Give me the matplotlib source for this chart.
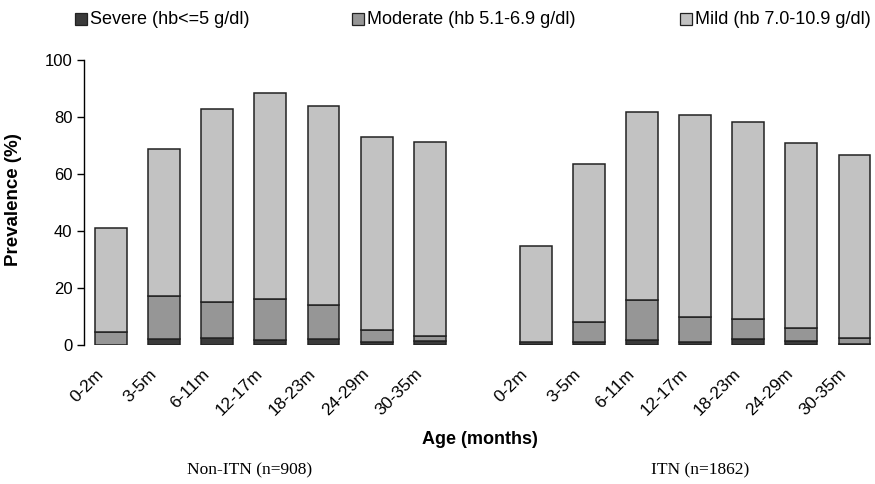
import matplotlib
matplotlib.use("Agg")
import matplotlib.pyplot as plt
from matplotlib.patches import Rectangle
from matplotlib.transforms import ScaledTranslation
import numpy as np

ages = ["0-2m", "3-5m", "6-11m", "12-17m", "18-23m", "24-29m", "30-35m"]
groups = ["Non-ITN (n=908)", "ITN (n=1862)"]

# Cumulative readings (top of each stacked level), in %
non_itn_total = [41.0, 68.8, 83.0, 88.6, 83.9, 73.1, 71.3]
non_itn_mod_top = [4.6, 17.2, 15.2, 16.1, 14.0, 5.5, 3.3]
non_itn_severe = [0.0, 2.2, 2.5, 1.9, 2.1, 1.2, 1.4]

itn_total = [34.8, 63.4, 81.9, 80.8, 78.3, 70.9, 66.7]
itn_mod_top = [1.1, 8.2, 16.0, 9.9, 9.3, 6.0, 2.5]
itn_severe = [0.3, 1.0, 1.9, 1.0, 2.1, 1.5, 0.5]

legend_labels = ["Severe (hb<=5 g/dl)", "Moderate (hb 5.1-6.9 g/dl)", "Mild (hb 7.0-10.9 g/dl)"]
colors = ["#3a3a3a", "#969696", "#c2c2c2"]
edge = "#222222"

severe = np.array(non_itn_severe + itn_severe)
moderate = np.array(non_itn_mod_top + itn_mod_top) - severe
mild = np.array(non_itn_total + itn_total) - np.array(non_itn_mod_top + itn_mod_top)

x = np.array(list(range(0, 7)) + list(range(8, 15)))
labels = ages + ages

W, H = 875, 484
fig = plt.figure(figsize=(W / 100, H / 100), dpi=100)
ax = fig.add_axes([83.5 / W, 1 - 345.3 / H, 797.5 / W, 285.3 / H])

bw = 0.6
lw = 1.1
ax.bar(x, severe, bw, color=colors[0], edgecolor=edge, linewidth=lw)
ax.bar(x, moderate, bw, bottom=severe, color=colors[1], edgecolor=edge, linewidth=lw)
ax.bar(x, mild, bw, bottom=severe + moderate, color=colors[2], edgecolor=edge, linewidth=lw)

ax.set_xlim(-0.52, 14.5)
ax.set_ylim(0, 100)
ax.set_yticks([0, 20, 40, 60, 80, 100])
for s in ["top", "right", "bottom"]:
    ax.spines[s].set_visible(False)
ax.spines["left"].set_color("black")
ax.spines["left"].set_linewidth(1.0)
ax.tick_params(axis="y", direction="out", length=5, width=1, pad=3, labelsize=12)
ax.tick_params(axis="x", length=0, pad=15, labelsize=12.5)
ax.set_xticks(x)
ax.set_xticklabels(labels, rotation=45, ha="right", va="top")
off = ScaledTranslation(-5 / 100, 0, fig.dpi_scale_trans)
for lab in ax.get_xticklabels():
    lab.set_transform(lab.get_transform() + off)
for lab in ax.get_yticklabels() + ax.get_xticklabels():
    lab.set_family(["Liberation Sans", "DejaVu Sans"])

fig.text(14 / W, 1 - 200 / H, "Prevalence (%)", rotation=90, ha="center", va="center",
         fontsize=13.5, fontweight="bold", family=["Liberation Sans", "DejaVu Sans"])
fig.text(480 / W, 1 - 440 / H, "Age (months)", ha="center", va="center",
         fontsize=13, fontweight="bold", family=["Liberation Sans", "DejaVu Sans"])
fig.text(250 / W, 1 - 470 / H, groups[0], ha="center", va="center",
         fontsize=12.5, family=["Liberation Serif", "DejaVu Serif"])
fig.text(700 / W, 1 - 470 / H, groups[1], ha="center", va="center",
         fontsize=12.5, family=["Liberation Serif", "DejaVu Serif"])

# legend
mx = [75, 352, 680]
for xm, lab, c in zip(mx, legend_labels, colors):
    fig.patches.append(Rectangle((xm / W, 1 - 25 / H), 12 / W, 12 / H, transform=fig.transFigure,
                                 facecolor=c, edgecolor=edge, linewidth=0.9))
    fig.text((xm + 15) / W, 1 - 19 / H, lab, ha="left", va="center", fontsize=13,
             family=["Liberation Sans", "DejaVu Sans"])

fig.savefig("out.png", dpi=100)
